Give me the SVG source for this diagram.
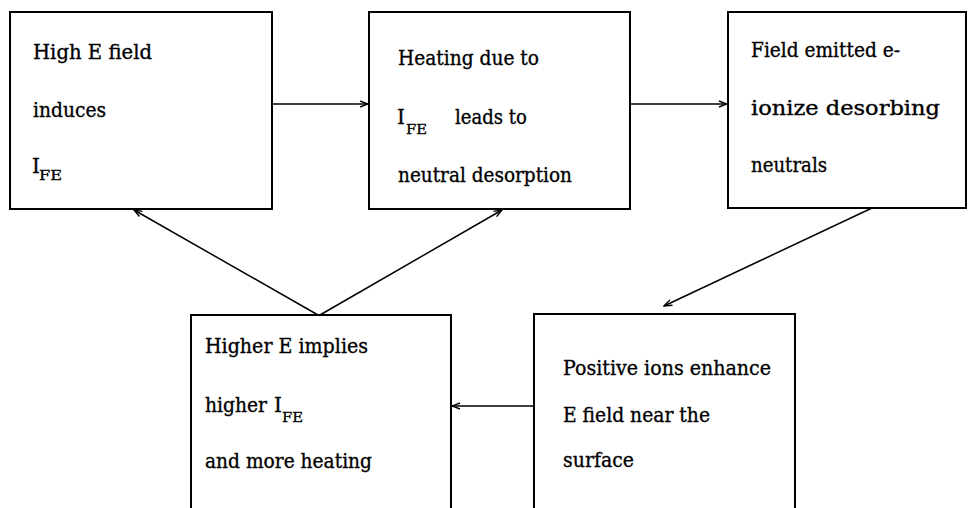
<svg xmlns="http://www.w3.org/2000/svg" width="977" height="508" viewBox="0 0 977 508">
  <defs>
    <marker id="arrow" markerWidth="10" markerHeight="8" refX="9" refY="4" orient="auto" markerUnits="userSpaceOnUse">
      <path d="M1,1 L9,4 L1,7" fill="none" stroke="#000" stroke-width="1.4"/>
    </marker>
    <style>
      .box { fill: #fff; stroke: #000; stroke-width: 2; }
      .lbl { font-family: "DejaVu Serif", "Liberation Serif", serif; font-size: 20px; fill: #000; stroke: #000; stroke-width: 0.35; }
      .sub { font-family: "DejaVu Serif", "Liberation Serif", serif; font-size: 12px; fill: #000; stroke: #000; stroke-width: 0.3; }
      .link { fill: none; stroke: #000; stroke-width: 1.5; marker-end: url(#arrow); }
    </style>
  </defs>
  <rect width="977" height="508" fill="#fff"/>

  <!-- connectors -->
  <g id="connectors">
    <line class="link" x1="272" y1="104" x2="368" y2="104"/>
    <line class="link" x1="630" y1="104" x2="727" y2="104"/>
    <line class="link" x1="872" y1="208" x2="664" y2="306"/>
    <line class="link" x1="534" y1="406" x2="452" y2="406"/>
    <line class="link" x1="318" y1="315" x2="134" y2="210"/>
    <line class="link" x1="320" y1="315" x2="502" y2="210"/>
  </g>

  <g id="node-high-field">
    <rect class="box" x="10" y="12" width="262" height="197"/>
    <text class="lbl" x="33" y="59" textLength="119" lengthAdjust="spacingAndGlyphs">High E field</text>
    <text class="lbl" x="33" y="117" textLength="73" lengthAdjust="spacingAndGlyphs">induces</text>
    <text class="lbl" x="32" y="173">I</text>
    <text class="sub" x="39" y="180" textLength="23" lengthAdjust="spacingAndGlyphs">FE</text>
  </g>

  <g id="node-heating">
    <rect class="box" x="369" y="12" width="261" height="197"/>
    <text class="lbl" x="398" y="65" textLength="141" lengthAdjust="spacingAndGlyphs">Heating due to</text>
    <text class="lbl" x="397" y="124">I</text>
    <text class="sub" x="406" y="134" textLength="21" lengthAdjust="spacingAndGlyphs">FE</text>
    <text class="lbl" x="455" y="124" textLength="72" lengthAdjust="spacingAndGlyphs">leads to</text>
    <text class="lbl" x="398" y="182" textLength="174" lengthAdjust="spacingAndGlyphs">neutral desorption</text>
  </g>

  <g id="node-ionize">
    <rect class="box" x="728" y="12" width="238" height="196"/>
    <text class="lbl" x="751" y="57" textLength="149" lengthAdjust="spacingAndGlyphs">Field emitted e-</text>
    <text class="lbl" x="751" y="115" textLength="189" lengthAdjust="spacingAndGlyphs">ionize desorbing</text>
    <text class="lbl" x="751" y="172" textLength="76" lengthAdjust="spacingAndGlyphs">neutrals</text>
  </g>

  <g id="node-higher-e">
    <rect class="box" x="191" y="315" width="260" height="200"/>
    <text class="lbl" x="205" y="353" textLength="163" lengthAdjust="spacingAndGlyphs">Higher E implies</text>
    <text class="lbl" x="205" y="412" textLength="62" lengthAdjust="spacingAndGlyphs">higher</text>
    <text class="lbl" x="274" y="412">I</text>
    <text class="sub" x="282" y="422" textLength="21" lengthAdjust="spacingAndGlyphs">FE</text>
    <text class="lbl" x="205" y="468" textLength="167" lengthAdjust="spacingAndGlyphs">and more heating</text>
  </g>

  <g id="node-positive-ions">
    <rect class="box" x="534" y="314" width="261" height="200"/>
    <text class="lbl" x="563" y="375" textLength="208" lengthAdjust="spacingAndGlyphs">Positive ions enhance</text>
    <text class="lbl" x="563" y="422" textLength="147" lengthAdjust="spacingAndGlyphs">E field near the</text>
    <text class="lbl" x="563" y="467" textLength="71" lengthAdjust="spacingAndGlyphs">surface</text>
  </g>
</svg>
